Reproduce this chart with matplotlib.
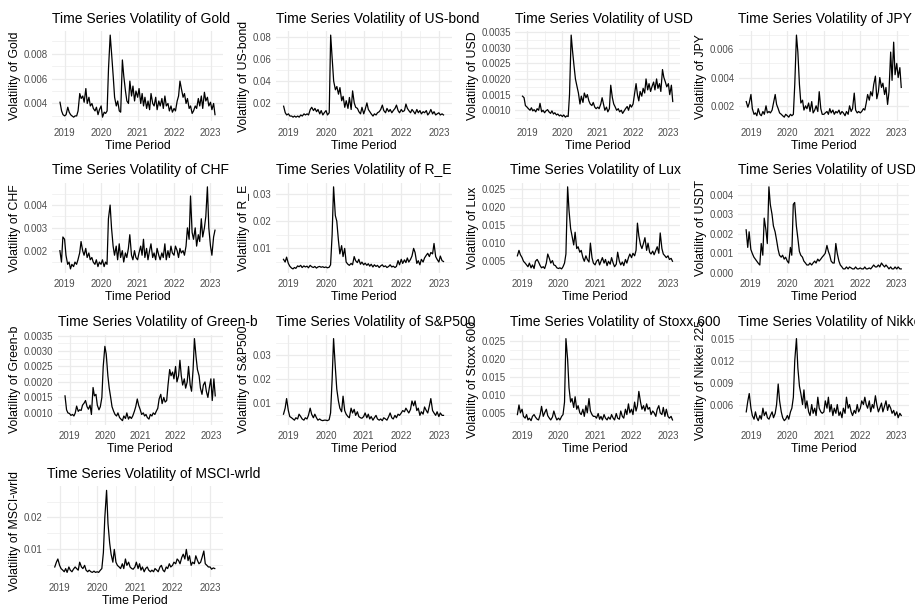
import pandas as pd
import matplotlib
matplotlib.use("Agg")
import matplotlib.pyplot as plt
import matplotlib.dates as mdates
from matplotlib.font_manager import FontProperties

plt.rcParams['font.family'] = ['Liberation Sans', 'DejaVu Sans']

# semi-monthly observation dates
dates = pd.date_range('2018-11-15', '2023-02-15', freq='SMS')

# one row per calendar year: 3 values for late 2018, 24 per year, 4 for early 2023
gold = [
    0.0041, 0.0034, 0.0031,
    0.0030, 0.0031, 0.0037, 0.0033, 0.0031, 0.0030, 0.0029, 0.0030, 0.0030, 0.0034, 0.0048, 0.0044,
    0.0046, 0.0041, 0.0052, 0.0040, 0.0045, 0.0038, 0.0040, 0.0036, 0.0034, 0.0037, 0.0031, 0.0035,
    0.0038, 0.0029, 0.0033, 0.0032, 0.0034, 0.0068, 0.0095, 0.0080, 0.0062, 0.0045, 0.0038, 0.0042,
    0.0034, 0.0033, 0.0075, 0.0062, 0.0050, 0.0042, 0.0040, 0.0058, 0.0046, 0.0054, 0.0042, 0.0050,
    0.0045, 0.0052, 0.0040, 0.0048, 0.0038, 0.0045, 0.0036, 0.0042, 0.0035, 0.0048, 0.0040, 0.0038,
    0.0045, 0.0035, 0.0042, 0.0038, 0.0044, 0.0036, 0.0046, 0.0038, 0.0040, 0.0034, 0.0038, 0.0033,
    0.0036, 0.0034, 0.0042, 0.0046, 0.0058, 0.0052, 0.0045, 0.0048, 0.0040, 0.0044, 0.0036, 0.0038,
    0.0032, 0.0034, 0.0038, 0.0036, 0.0044, 0.0038, 0.0046, 0.0036, 0.0049, 0.0042, 0.0045, 0.0038,
    0.0041, 0.0035, 0.0040, 0.0031,
]
us_bond = [
    0.017, 0.011, 0.009,
    0.010, 0.008, 0.008, 0.007, 0.008, 0.007, 0.008, 0.007, 0.009, 0.008, 0.010, 0.009,
    0.010, 0.009, 0.014, 0.016, 0.013, 0.015, 0.012, 0.014, 0.010, 0.013, 0.009, 0.011,
    0.013, 0.009, 0.011, 0.082, 0.060, 0.040, 0.032, 0.035, 0.028, 0.034, 0.022, 0.026,
    0.016, 0.022, 0.015, 0.025, 0.014, 0.031, 0.020, 0.016, 0.015, 0.012, 0.010, 0.016,
    0.010, 0.014, 0.020, 0.014, 0.012, 0.010, 0.008, 0.010, 0.009, 0.011, 0.012, 0.014,
    0.018, 0.013, 0.011, 0.015, 0.012, 0.014, 0.011, 0.013, 0.015, 0.018, 0.013, 0.011,
    0.014, 0.012, 0.013, 0.019, 0.015, 0.013, 0.011, 0.014, 0.012, 0.010, 0.014, 0.011,
    0.013, 0.010, 0.012, 0.011, 0.013, 0.009, 0.011, 0.014, 0.010, 0.012, 0.009, 0.010,
    0.011, 0.009, 0.010, 0.009,
]
usd = [
    0.00145, 0.00140, 0.00115,
    0.00110, 0.00105, 0.00100, 0.00108, 0.00098, 0.00102, 0.00095, 0.00105, 0.00100, 0.00122, 0.00095, 0.00100,
    0.00092, 0.00098, 0.00102, 0.00095, 0.00090, 0.00098, 0.00088, 0.00092, 0.00085, 0.00088, 0.00082, 0.00085,
    0.00080, 0.00085, 0.00078, 0.00082, 0.00080, 0.00150, 0.00340, 0.00290, 0.00240, 0.00200, 0.00175, 0.00155,
    0.00120, 0.00145, 0.00125, 0.00155, 0.00140, 0.00150, 0.00130, 0.00120, 0.00115, 0.00125, 0.00110, 0.00105,
    0.00110, 0.00105, 0.00120, 0.00140, 0.00120, 0.00100, 0.00110, 0.00095, 0.00105, 0.00180, 0.00140, 0.00120,
    0.00110, 0.00100, 0.00105, 0.00095, 0.00100, 0.00090, 0.00098, 0.00105, 0.00112, 0.00100, 0.00118, 0.00110,
    0.00120, 0.00150, 0.00185, 0.00150, 0.00130, 0.00160, 0.00145, 0.00170, 0.00155, 0.00200, 0.00165, 0.00185,
    0.00160, 0.00175, 0.00190, 0.00165, 0.00200, 0.00170, 0.00185, 0.00160, 0.00230, 0.00205, 0.00190, 0.00175,
    0.00185, 0.00150, 0.00180, 0.00128,
]
jpy = [
    0.0023, 0.0019, 0.0022,
    0.0028, 0.0018, 0.0014, 0.0015, 0.0013, 0.0018, 0.0014, 0.0013, 0.0016, 0.0014, 0.0020, 0.0015,
    0.0016, 0.0015, 0.0017, 0.0022, 0.0028, 0.0021, 0.0018, 0.0015, 0.0014, 0.0013, 0.0012, 0.0014,
    0.0013, 0.0012, 0.0014, 0.0013, 0.0014, 0.0035, 0.0070, 0.0058, 0.0035, 0.0022, 0.0024, 0.0017,
    0.0020, 0.0018, 0.0022, 0.0016, 0.0023, 0.0015, 0.0017, 0.0020, 0.0016, 0.0030, 0.0018, 0.0014,
    0.0014, 0.0015, 0.0016, 0.0014, 0.0018, 0.0015, 0.0017, 0.0014, 0.0016, 0.0015, 0.0017, 0.0014,
    0.0016, 0.0015, 0.0013, 0.0016, 0.0014, 0.0020, 0.0016, 0.0018, 0.0029, 0.0017, 0.0015, 0.0016,
    0.0015, 0.0016, 0.0018, 0.0017, 0.0022, 0.0028, 0.0024, 0.0030, 0.0027, 0.0035, 0.0041, 0.0025,
    0.0030, 0.0040, 0.0033, 0.0036, 0.0028, 0.0033, 0.0021, 0.0030, 0.0058, 0.0038, 0.0065, 0.0042,
    0.0050, 0.0040, 0.0047, 0.0033,
]
chf = [
    0.0020, 0.0015, 0.0026,
    0.0025, 0.0018, 0.0014, 0.0015, 0.0012, 0.0014, 0.0013, 0.0015, 0.0014, 0.0016, 0.0019, 0.0024,
    0.0020, 0.0018, 0.0021, 0.0017, 0.0019, 0.0016, 0.0017, 0.0015, 0.0014, 0.0016, 0.0013, 0.0015,
    0.0014, 0.0016, 0.0013, 0.0015, 0.0014, 0.0034, 0.0040, 0.0030, 0.0022, 0.0018, 0.0022, 0.0016,
    0.0023, 0.0017, 0.0020, 0.0015, 0.0019, 0.0017, 0.0021, 0.0027, 0.0018, 0.0016, 0.0020, 0.0017,
    0.0016, 0.0019, 0.0022, 0.0018, 0.0025, 0.0017, 0.0021, 0.0016, 0.0020, 0.0023, 0.0017, 0.0019,
    0.0016, 0.0021, 0.0018, 0.0016, 0.0019, 0.0017, 0.0023, 0.0016, 0.0020, 0.0017, 0.0022, 0.0019,
    0.0018, 0.0022, 0.0020, 0.0017, 0.0021, 0.0019, 0.0020, 0.0018, 0.0022, 0.0030, 0.0025, 0.0044,
    0.0028, 0.0025, 0.0030, 0.0022, 0.0027, 0.0024, 0.0034, 0.0026, 0.0030, 0.0035, 0.0048, 0.0030,
    0.0022, 0.0018, 0.0026, 0.0029,
]
r_e = [
    0.0060, 0.0050, 0.0068,
    0.0045, 0.0035, 0.0028, 0.0025, 0.0030, 0.0027, 0.0036, 0.0033, 0.0038, 0.0030, 0.0036, 0.0032,
    0.0035, 0.0029, 0.0038, 0.0033, 0.0030, 0.0034, 0.0028, 0.0032, 0.0034, 0.0031, 0.0033, 0.0030,
    0.0032, 0.0029, 0.0031, 0.0040, 0.0150, 0.0325, 0.0220, 0.0200, 0.0130, 0.0080, 0.0110, 0.0070,
    0.0100, 0.0050, 0.0042, 0.0038, 0.0045, 0.0040, 0.0070, 0.0055, 0.0048, 0.0060, 0.0042, 0.0050,
    0.0040, 0.0046, 0.0038, 0.0044, 0.0035, 0.0042, 0.0032, 0.0040, 0.0034, 0.0038, 0.0030, 0.0036,
    0.0040, 0.0033, 0.0036, 0.0030, 0.0034, 0.0040, 0.0032, 0.0035, 0.0030, 0.0034, 0.0055, 0.0040,
    0.0060, 0.0045, 0.0058, 0.0048, 0.0065, 0.0050, 0.0060, 0.0072, 0.0100, 0.0085, 0.0045, 0.0055,
    0.0040, 0.0060, 0.0050, 0.0065, 0.0075, 0.0082, 0.0070, 0.0085, 0.0080, 0.0118, 0.0070, 0.0060,
    0.0050, 0.0072, 0.0055, 0.0052,
]
lux = [
    0.0065, 0.0080, 0.0068,
    0.0060, 0.0050, 0.0045, 0.0040, 0.0035, 0.0045, 0.0032, 0.0040, 0.0030, 0.0050, 0.0055, 0.0048,
    0.0038, 0.0032, 0.0035, 0.0030, 0.0045, 0.0070, 0.0058, 0.0045, 0.0052, 0.0040, 0.0038, 0.0032,
    0.0030, 0.0032, 0.0029, 0.0035, 0.0045, 0.0070, 0.0255, 0.0190, 0.0140, 0.0120, 0.0095, 0.0130,
    0.0085, 0.0090, 0.0075, 0.0080, 0.0060, 0.0050, 0.0065, 0.0055, 0.0048, 0.0100, 0.0060, 0.0045,
    0.0040, 0.0050, 0.0055, 0.0040, 0.0050, 0.0060, 0.0045, 0.0055, 0.0038, 0.0050, 0.0042, 0.0060,
    0.0045, 0.0035, 0.0042, 0.0075, 0.0050, 0.0040, 0.0048, 0.0038, 0.0055, 0.0045, 0.0060, 0.0070,
    0.0060, 0.0072, 0.0065, 0.0080, 0.0155, 0.0120, 0.0095, 0.0085, 0.0100, 0.0115, 0.0080, 0.0100,
    0.0075, 0.0070, 0.0078, 0.0068, 0.0080, 0.0090, 0.0072, 0.0128, 0.0085, 0.0070, 0.0065, 0.0060,
    0.0065, 0.0055, 0.0058, 0.0050,
]
usdt = [
    0.0022, 0.0013, 0.0021,
    0.0012, 0.0010, 0.0008, 0.0007, 0.0006, 0.0005, 0.0004, 0.0015, 0.0009, 0.0028, 0.0022, 0.0015,
    0.0044, 0.0035, 0.0030, 0.0024, 0.0021, 0.0017, 0.0012, 0.0009, 0.0008, 0.0009, 0.0007, 0.0008,
    0.0006, 0.0005, 0.0013, 0.0009, 0.0035, 0.0036, 0.0024, 0.0018, 0.0011, 0.0009, 0.0008, 0.0006,
    0.0005, 0.0004, 0.0004, 0.0005, 0.0004, 0.0005, 0.0006, 0.0005, 0.0007, 0.0006, 0.0007, 0.0008,
    0.0009, 0.0010, 0.0014, 0.0011, 0.0009, 0.0006, 0.0005, 0.0005, 0.0015, 0.0010, 0.0006, 0.0004,
    0.0003, 0.0002, 0.0002, 0.0003, 0.0002, 0.0003, 0.00025, 0.0002, 0.0002, 0.0003, 0.0002, 0.0002,
    0.00025, 0.0002, 0.0002, 0.0003, 0.0002, 0.0002, 0.00025, 0.0002, 0.0003, 0.0004, 0.0003, 0.0003,
    0.0004, 0.0003, 0.0005, 0.0004, 0.0003, 0.0004, 0.0003, 0.0002, 0.0003, 0.0002, 0.0002, 0.0003,
    0.0002, 0.0003, 0.0002, 0.0002,
]
green_b = [
    0.00155, 0.00110, 0.00100,
    0.00098, 0.00092, 0.00095, 0.00090, 0.00100, 0.00122, 0.00105, 0.00110, 0.00108, 0.00125, 0.00132, 0.00140,
    0.00120, 0.00112, 0.00125, 0.00095, 0.00182, 0.00155, 0.00160, 0.00125, 0.00110, 0.00120, 0.00150, 0.00250,
    0.00315, 0.00290, 0.00220, 0.00180, 0.00150, 0.00120, 0.00105, 0.00095, 0.00090, 0.00100, 0.00085, 0.00080,
    0.00075, 0.00090, 0.00082, 0.00100, 0.00080, 0.00088, 0.00082, 0.00090, 0.00105, 0.00120, 0.00145, 0.00125,
    0.00110, 0.00095, 0.00100, 0.00090, 0.00095, 0.00085, 0.00080, 0.00095, 0.00090, 0.00100, 0.00095, 0.00105,
    0.00115, 0.00145, 0.00160, 0.00130, 0.00150, 0.00135, 0.00140, 0.00190, 0.00240, 0.00220, 0.00232, 0.00210,
    0.00250, 0.00200, 0.00220, 0.00270, 0.00220, 0.00190, 0.00210, 0.00180, 0.00200, 0.00250, 0.00190, 0.00170,
    0.00240, 0.00340, 0.00280, 0.00240, 0.00220, 0.00180, 0.00160, 0.00190, 0.00200, 0.00170, 0.00150, 0.00180,
    0.00210, 0.00140, 0.00210, 0.00155,
]
sp500 = [
    0.0055, 0.0080, 0.0120,
    0.0070, 0.0045, 0.0040, 0.0035, 0.0030, 0.0040, 0.0035, 0.0055, 0.0045, 0.0035, 0.0030, 0.0040,
    0.0035, 0.0050, 0.0080, 0.0055, 0.0040, 0.0055, 0.0040, 0.0030, 0.0035, 0.0030, 0.0028, 0.0030,
    0.0030, 0.0028, 0.0032, 0.0060, 0.0200, 0.0370, 0.0250, 0.0160, 0.0110, 0.0080, 0.0065, 0.0130,
    0.0070, 0.0055, 0.0045, 0.0040, 0.0080, 0.0060, 0.0075, 0.0050, 0.0065, 0.0045, 0.0040, 0.0038,
    0.0045, 0.0060, 0.0040, 0.0055, 0.0035, 0.0045, 0.0030, 0.0040, 0.0050, 0.0035, 0.0030, 0.0035,
    0.0028, 0.0040, 0.0035, 0.0030, 0.0045, 0.0060, 0.0040, 0.0035, 0.0050, 0.0040, 0.0055, 0.0050,
    0.0060, 0.0070, 0.0065, 0.0080, 0.0070, 0.0060, 0.0075, 0.0110, 0.0090, 0.0110, 0.0070, 0.0080,
    0.0050, 0.0065, 0.0055, 0.0085, 0.0070, 0.0060, 0.0090, 0.0120, 0.0070, 0.0060, 0.0050, 0.0065,
    0.0045, 0.0060, 0.0050, 0.0050,
]
stoxx600 = [
    0.0045, 0.0072, 0.0050,
    0.0060, 0.0040, 0.0035, 0.0045, 0.0030, 0.0035, 0.0028, 0.0040, 0.0045, 0.0038, 0.0032, 0.0030,
    0.0045, 0.0068, 0.0040, 0.0050, 0.0060, 0.0042, 0.0035, 0.0030, 0.0038, 0.0055, 0.0040, 0.0030,
    0.0035, 0.0030, 0.0040, 0.0045, 0.0080, 0.0258, 0.0200, 0.0120, 0.0080, 0.0090, 0.0065, 0.0095,
    0.0060, 0.0070, 0.0050, 0.0045, 0.0060, 0.0040, 0.0070, 0.0050, 0.0090, 0.0055, 0.0045, 0.0040,
    0.0040, 0.0035, 0.0048, 0.0032, 0.0040, 0.0030, 0.0045, 0.0035, 0.0030, 0.0038, 0.0032, 0.0045,
    0.0035, 0.0030, 0.0048, 0.0035, 0.0032, 0.0055, 0.0040, 0.0035, 0.0060, 0.0045, 0.0075, 0.0050,
    0.0060, 0.0045, 0.0080, 0.0055, 0.0070, 0.0110, 0.0080, 0.0060, 0.0070, 0.0055, 0.0075, 0.0060,
    0.0065, 0.0045, 0.0055, 0.0050, 0.0040, 0.0060, 0.0070, 0.0050, 0.0045, 0.0065, 0.0040, 0.0060,
    0.0040, 0.0035, 0.0040, 0.0030,
]
nikkei225 = [
    0.0050, 0.0065, 0.0075,
    0.0055, 0.0045, 0.0040, 0.0050, 0.0042, 0.0038, 0.0045, 0.0040, 0.0055, 0.0045, 0.0050, 0.0042,
    0.0040, 0.0045, 0.0050, 0.0042, 0.0048, 0.0060, 0.0088, 0.0065, 0.0050, 0.0042, 0.0038, 0.0040,
    0.0045, 0.0040, 0.0050, 0.0055, 0.0070, 0.0120, 0.0150, 0.0110, 0.0085, 0.0075, 0.0060, 0.0080,
    0.0055, 0.0065, 0.0050, 0.0045, 0.0060, 0.0048, 0.0055, 0.0045, 0.0070, 0.0055, 0.0050, 0.0048,
    0.0050, 0.0065, 0.0055, 0.0070, 0.0050, 0.0060, 0.0045, 0.0055, 0.0048, 0.0060, 0.0045, 0.0050,
    0.0042, 0.0055, 0.0048, 0.0070, 0.0055, 0.0060, 0.0050, 0.0045, 0.0052, 0.0048, 0.0060, 0.0050,
    0.0055, 0.0065, 0.0060, 0.0070, 0.0060, 0.0055, 0.0065, 0.0050, 0.0060, 0.0055, 0.0072, 0.0060,
    0.0050, 0.0055, 0.0062, 0.0050, 0.0058, 0.0065, 0.0052, 0.0060, 0.0055, 0.0048, 0.0052, 0.0045,
    0.0050, 0.0042, 0.0048, 0.0045,
]
msci_wrld = [
    0.0045, 0.0060, 0.0070,
    0.0050, 0.0040, 0.0035, 0.0030, 0.0040, 0.0028, 0.0045, 0.0035, 0.0030, 0.0038, 0.0045, 0.0040,
    0.0035, 0.0060, 0.0045, 0.0040, 0.0050, 0.0035, 0.0030, 0.0035, 0.0030, 0.0028, 0.0032, 0.0028,
    0.0030, 0.0028, 0.0035, 0.0040, 0.0090, 0.0200, 0.0285, 0.0180, 0.0120, 0.0085, 0.0060, 0.0100,
    0.0060, 0.0050, 0.0045, 0.0040, 0.0055, 0.0040, 0.0070, 0.0050, 0.0060, 0.0045, 0.0040, 0.0038,
    0.0045, 0.0060, 0.0040, 0.0055, 0.0035, 0.0045, 0.0030, 0.0040, 0.0045, 0.0035, 0.0030, 0.0035,
    0.0030, 0.0040, 0.0035, 0.0030, 0.0045, 0.0050, 0.0035, 0.0030, 0.0045, 0.0040, 0.0055, 0.0045,
    0.0050, 0.0060, 0.0055, 0.0070, 0.0065, 0.0055, 0.0075, 0.0085, 0.0070, 0.0100, 0.0065, 0.0080,
    0.0050, 0.0060, 0.0055, 0.0080, 0.0065, 0.0055, 0.0060, 0.0075, 0.0095, 0.0055, 0.0050, 0.0045,
    0.0045, 0.0038, 0.0042, 0.0040,
]

assets = ['Gold', 'US-bond', 'USD', 'JPY', 'CHF', 'R_E', 'Lux', 'USDT',
          'Green-b', 'S&P500', 'Stoxx 600', 'Nikkei 225', 'MSCI-wrld']
series = [gold, us_bond, usd, jpy, chf, r_e, lux, usdt,
          green_b, sp500, stoxx600, nikkei225, msci_wrld]
y_breaks = [
    [0.004, 0.006, 0.008],
    [0.02, 0.04, 0.06, 0.08],
    [0.0010, 0.0015, 0.0020, 0.0025, 0.0030, 0.0035],
    [0.002, 0.004, 0.006],
    [0.002, 0.003, 0.004, 0.005],
    [0.01, 0.02, 0.03],
    [0.005, 0.010, 0.015, 0.020, 0.025],
    [0.000, 0.001, 0.002, 0.003, 0.004],
    [0.0010, 0.0015, 0.0020, 0.0025, 0.0030, 0.0035],
    [0.01, 0.02, 0.03],
    [0.005, 0.010, 0.015, 0.020, 0.025],
    [0.003, 0.006, 0.009, 0.012, 0.015],
    [0.01, 0.02],
]
years = [2019, 2020, 2021, 2022, 2023]

W, H = 915, 607
COL_W, ROW_H = W / 4, H / 4
GRID = '#EBEBEB'
TICK_COLOR = '#4D4D4D'
TICK_SIZE = 7

fig = plt.figure(figsize=(W / 100, H / 100), dpi=100)
renderer = fig.canvas.get_renderer()
tick_font = FontProperties(family='Liberation Sans', size=TICK_SIZE)


def n_decimals(values):
    d = 0
    while any(abs(round(v, d) - v) > 1e-12 for v in values):
        d += 1
    return d


year_pos = mdates.date2num([pd.Timestamp(f'{y}-01-01') for y in years])
mid_year_pos = mdates.date2num([pd.Timestamp(f'{y}-07-02') for y in range(2018, 2024)])

for k, (name, values, breaks) in enumerate(zip(assets, series, y_breaks)):
    row, col = divmod(k, 4)
    d = n_decimals(breaks)
    labels = [f'{b:.{d}f}' for b in breaks]
    label_w = max(renderer.get_text_width_height_descent(s, tick_font, ismath=False)[0]
                  for s in labels)

    left = col * COL_W + 28 + label_w
    right = (col + 1) * COL_W - 6
    top = row * ROW_H + 31
    bottom = (row + 1) * ROW_H - 30.5
    ax = fig.add_axes([left / W, 1 - bottom / H, (right - left) / W, (bottom - top) / H])

    ax.plot(dates, values, color='black', linewidth=0.9)
    xlo, xhi = ax.get_xlim()
    ylo, yhi = ax.get_ylim()

    ax.set_yticks(breaks, labels)
    ax.set_xticks(year_pos, [str(y) for y in years])
    step = breaks[1] - breaks[0]
    ext = [breaks[0] - step] + breaks + [breaks[-1] + step]
    y_minor = [(a + b) / 2 for a, b in zip(ext[:-1], ext[1:])]
    ax.set_yticks([m for m in y_minor if ylo < m < yhi], minor=True)
    ax.set_xticks([m for m in mid_year_pos if xlo < m < xhi], minor=True)
    ax.set_xlim(xlo, xhi)
    ax.set_ylim(ylo, yhi)

    ax.grid(which='major', color=GRID, linewidth=0.9)
    ax.grid(which='minor', color=GRID, linewidth=0.45)
    ax.set_axisbelow(True)
    for sp in ax.spines.values():
        sp.set_visible(False)
    ax.tick_params(which='both', length=0, labelsize=TICK_SIZE,
                   labelcolor=TICK_COLOR)
    ax.tick_params(axis='x', pad=4.5)
    ax.tick_params(axis='y', pad=3)

    ax.set_title(f'Time Series Volatility of {name}', loc='left', fontsize=10, pad=6)
    ax.set_xlabel('Time Period', fontsize=8.8, labelpad=1.5)
    ax.set_ylabel(f'Volatility of {name}', fontsize=8.8, labelpad=2)

fig.savefig('out.png', dpi=100)
